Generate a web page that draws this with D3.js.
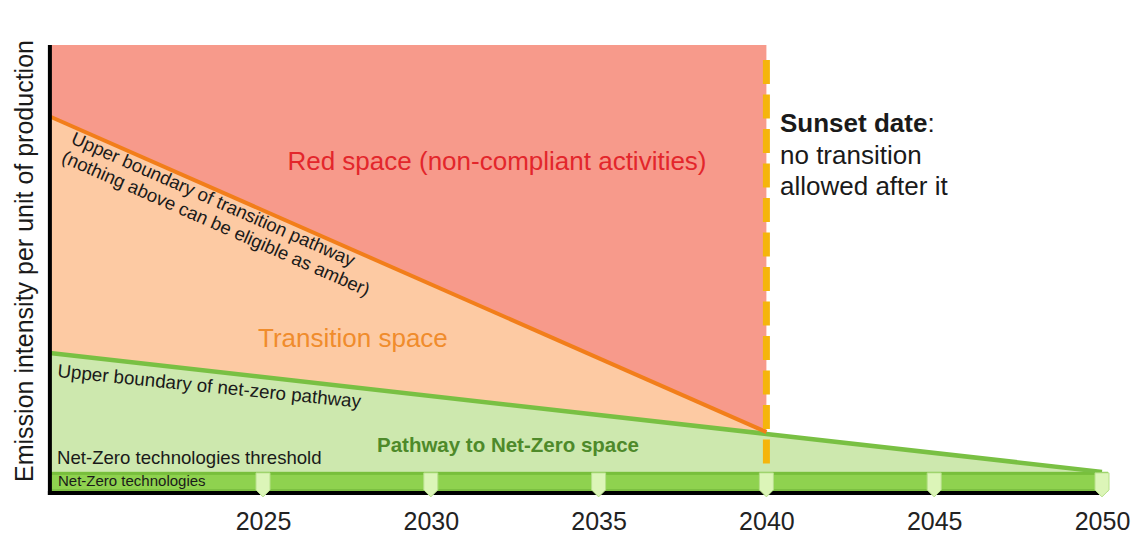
<!DOCTYPE html>
<html>
<head>
<meta charset="utf-8">
<script src="https://cdn.jsdelivr.net/npm/d3@7"></script>
<style>
  html, body { margin: 0; padding: 0; background: #ffffff; }
  svg { display: block; font-family: "Liberation Sans", Arial, Helvetica, sans-serif; }
</style>
</head>
<body>
<svg id="chart" width="1137" height="537"></svg>
<script>
// ---------- data ----------
const tickYears = [2025, 2030, 2035, 2040, 2045, 2050];
const originYear = 2018.65;            // left edge of the plot
const sunsetYear = 2040;
const topValue = 100;                  // top of the (unitless) intensity scale
const thresholdValue = 4.5;            // net-zero technologies threshold
const transitionYears = [originYear, 2040];
const transitionUpper = [84, 13.4];    // upper boundary of transition pathway
const netZeroYears = [originYear, 2040, 2050];
const netZeroUpper = [31.1, 13.0, 4.5]; // upper boundary of net-zero pathway

// ---------- scales ----------
const svg = d3.select("#chart");
const x = d3.scaleLinear().domain([2025, 2050]).range([263, 1102]);
const y = d3.scaleLinear().domain([0, 100]).range([492, 45]);

const transition = transitionYears.map((yr, i) => ({ yr, v: transitionUpper[i] }));
const netZero = netZeroYears.map((yr, i) => ({ yr, v: netZeroUpper[i] }));
const nzAt = yr => {
  for (let i = 0; i < netZero.length - 1; i++) {
    const a = netZero[i], b = netZero[i + 1];
    if (yr >= a.yr && yr <= b.yr) return a.v + (b.v - a.v) * (yr - a.yr) / (b.yr - a.yr);
  }
  return netZero[netZero.length - 1].v;
};

// ---------- regions ----------
svg.append("path")
  .datum(transition)
  .attr("fill", "#f79a8b")
  .attr("d", d3.area().x(d => x(d.yr)).y0(y(topValue)).y1(d => y(d.v)));

svg.append("path")
  .datum(transition)
  .attr("fill", "#fdcaa3")
  .attr("d", d3.area().x(d => x(d.yr)).y0(d => y(d.v)).y1(d => y(nzAt(d.yr))));

svg.append("path")
  .datum(netZero)
  .attr("fill", "#cde8ae")
  .attr("d", d3.area().x(d => x(d.yr)).y0(y(thresholdValue)).y1(d => y(d.v)));

// net-zero technologies band
const bandEnd = 2050.18;
svg.append("rect")
  .attr("x", x(originYear)).attr("y", y(thresholdValue))
  .attr("width", x(bandEnd) - x(originYear))
  .attr("height", y(0) - y(thresholdValue))
  .attr("fill", "#8fd24f");
svg.append("rect")
  .attr("x", x(originYear)).attr("y", y(thresholdValue))
  .attr("width", x(bandEnd) - x(originYear))
  .attr("height", 3)
  .attr("fill", "#78bf3c");
svg.append("rect")
  .attr("x", x(originYear)).attr("y", y(0) - 3)
  .attr("width", x(bandEnd) - x(originYear))
  .attr("height", 3)
  .attr("fill", "#7cc042");

// ---------- boundary lines ----------
const line = d3.line().x(d => x(d.yr)).y(d => y(d.v));
svg.append("path").datum(netZero)
  .attr("fill", "none").attr("stroke", "#79c043").attr("stroke-width", 4.5)
  .attr("stroke-linejoin", "round")
  .attr("d", line);
svg.append("path").datum(transition)
  .attr("fill", "none").attr("stroke", "#f27e1a").attr("stroke-width", 4)
  .attr("d", line);

// ---------- sunset line ----------
svg.append("line")
  .attr("x1", x(sunsetYear)).attr("x2", x(sunsetYear))
  .attr("y1", 60).attr("y2", y(thresholdValue) + 3)
  .attr("stroke", "#f5b50c").attr("stroke-width", 7)
  .attr("stroke-dasharray", "24,10.5");

// ---------- axes (black frame) ----------
svg.append("line")
  .attr("x1", x(originYear)).attr("x2", x(originYear))
  .attr("y1", y(topValue)).attr("y2", y(0) + 3)
  .attr("stroke", "#000").attr("stroke-width", 4);
svg.append("line")
  .attr("x1", x(originYear) - 2).attr("x2", x(2050))
  .attr("y1", y(0) + 1).attr("y2", y(0) + 1)
  .attr("stroke", "#000").attr("stroke-width", 4);

// tick markers (light green pentagons)
svg.append("g").selectAll("path")
  .data(tickYears)
  .join("path")
  .attr("transform", d => `translate(${x(d)},${y(thresholdValue) + 1})`)
  .attr("d", "M-7,0 L7,0 L7,17 L0,24 L-7,17 Z")
  .attr("fill", "#dcf5b8")
  .attr("stroke", "#b7e08a")
  .attr("stroke-width", 1);

// x axis labels
const xAxis = svg.append("g")
  .attr("transform", `translate(0,${y(0)})`)
  .call(d3.axisBottom(x).tickValues(tickYears).tickSize(0).tickFormat(d3.format("d")));
xAxis.select(".domain").remove();
xAxis.selectAll("text")
  .attr("y", 38).attr("dy", 0)
  .attr("font-size", 25)
  .attr("font-family", "'Liberation Sans', Arial, sans-serif")
  .attr("fill", "#222");

// y axis label
svg.append("text")
  .attr("transform", "translate(33,261) rotate(-90)")
  .attr("text-anchor", "middle")
  .attr("font-size", 25)
  .attr("fill", "#1a1a1a")
  .text("Emission intensity per unit of production");

// ---------- annotations ----------
svg.append("text")
  .attr("x", 497).attr("y", 170)
  .attr("text-anchor", "middle")
  .attr("font-size", 26)
  .attr("fill", "#e3262b")
  .text("Red space (non-compliant activities)");

svg.append("text")
  .attr("x", 258).attr("y", 347)
  .attr("font-size", 26)
  .attr("fill", "#f08c2c")
  .text("Transition space");

const angT = Math.atan2(y(transitionUpper[1]) - y(transitionUpper[0]),
                        x(transitionYears[1]) - x(transitionYears[0])) * 180 / Math.PI;
const tb = svg.append("text")
  .attr("transform", `translate(70,143) rotate(${angT})`)
  .attr("font-size", 18.5)
  .attr("fill", "#1a1a1a");
tb.append("tspan").attr("x", 0).attr("dy", 0).text("Upper boundary of transition pathway");
tb.append("tspan").attr("x", -1).attr("dy", 21).text("(nothing above can be eligible as amber)");

svg.append("text")
  .attr("transform", "translate(57,377) rotate(5.8)")
  .attr("font-size", 18.8)
  .attr("fill", "#1a1a1a")
  .text("Upper boundary of net-zero pathway");

svg.append("text")
  .attr("x", 377).attr("y", 452)
  .attr("font-size", 20.5)
  .attr("font-weight", "bold")
  .attr("fill", "#4e8a2a")
  .text("Pathway to Net-Zero space");

svg.append("text")
  .attr("x", 57).attr("y", 464)
  .attr("font-size", 18.6)
  .attr("fill", "#1a1a1a")
  .text("Net-Zero technologies threshold");

svg.append("text")
  .attr("x", 58).attr("y", 486)
  .attr("font-size", 15)
  .attr("fill", "#1a1a1a")
  .text("Net-Zero technologies");

const sun = svg.append("text")
  .attr("font-size", 26)
  .attr("fill", "#1a1a1a");
const l1 = sun.append("tspan").attr("x", 780).attr("y", 132);
l1.append("tspan").attr("font-weight", "bold").text("Sunset date");
l1.append("tspan").text(":");
sun.append("tspan").attr("x", 780).attr("y", 164).text("no transition");
sun.append("tspan").attr("x", 780).attr("y", 195).text("allowed after it");
</script>
</body>
</html>
